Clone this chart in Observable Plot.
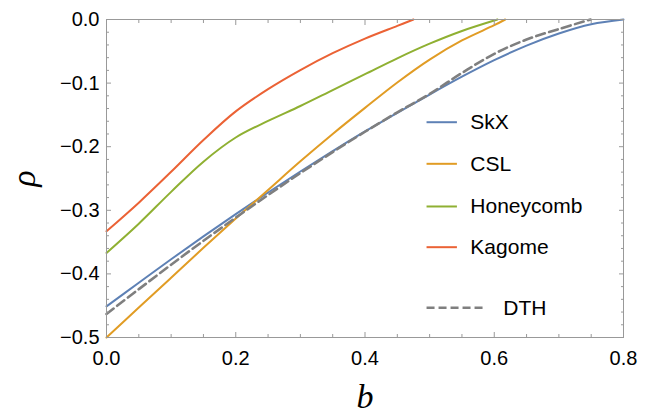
<!DOCTYPE html>
<html><head><meta charset="utf-8">
<script src="https://cdn.jsdelivr.net/npm/d3@7"></script>
<script src="https://cdn.jsdelivr.net/npm/@observablehq/plot@0.6"></script>
<style>body{margin:0;background:#fff}</style>
</head><body><div id="chart"></div>
<script>
// ---- data ----
const seriesNames = ["SkX", "CSL", "Honeycomb", "Kagome", "DTH"];
const seriesColors = ["#5E81B5", "#E19C24", "#8FB032", "#EB6235", "#7f7f7f"];

const skxB   = [0, 0.05, 0.1, 0.15, 0.2, 0.25, 0.3, 0.35, 0.4, 0.45, 0.5, 0.55, 0.6, 0.65, 0.7, 0.75, 0.8];
const skxRho = [-0.451, -0.414, -0.377, -0.341, -0.306, -0.272, -0.239, -0.207, -0.176, -0.147, -0.118, -0.090, -0.064, -0.041, -0.022, -0.0075, 0];

const cslB   = [0, 0.05, 0.1, 0.15, 0.2, 0.25, 0.3, 0.35, 0.4, 0.45, 0.5, 0.55, 0.6, 0.617];
const cslRho = [-0.5, -0.453, -0.406, -0.359, -0.313, -0.268, -0.223, -0.180, -0.139, -0.099, -0.063, -0.033, -0.009, 0];

const honeyB   = [0, 0.05, 0.1, 0.15, 0.2, 0.25, 0.3, 0.35, 0.4, 0.45, 0.5, 0.55, 0.605];
const honeyRho = [-0.367, -0.321, -0.271, -0.2235, -0.1855, -0.1595, -0.136, -0.111, -0.086, -0.061, -0.038, -0.018, 0];

const kagB   = [0, 0.05, 0.1, 0.15, 0.2, 0.25, 0.3, 0.35, 0.4, 0.45, 0.475];
const kagRho = [-0.333, -0.288, -0.2395, -0.1895, -0.1445, -0.1095, -0.0795, -0.053, -0.030, -0.010, 0];

const dthB   = [0, 0.05, 0.1, 0.15, 0.2, 0.25, 0.3, 0.35, 0.4, 0.45, 0.5, 0.55, 0.6, 0.65, 0.7, 0.749];
const dthRho = [-0.463, -0.424, -0.3855, -0.348, -0.3115, -0.276, -0.2415, -0.2085, -0.1765, -0.146, -0.117, -0.084, -0.054, -0.0315, -0.015, 0];

const xMajor = [0, 0.2, 0.4, 0.6, 0.8];
const yMajor = [-0.5, -0.4, -0.3, -0.2, -0.1, 0];

// ---- build tables ----
const toRows = (name, B, R) => B.map((b, i) => ({series: name, b, rho: R[i]}));
const solid = [
  ...toRows("SkX", skxB, skxRho),
  ...toRows("CSL", cslB, cslRho),
  ...toRows("Honeycomb", honeyB, honeyRho),
  ...toRows("Kagome", kagB, kagRho)
];
const dth = toRows("DTH", dthB, dthRho);

const xMinor = d3.range(0, 0.8001, 0.05).map(v => +v.toFixed(3)).filter(v => !xMajor.some(m => Math.abs(m - v) < 1e-6));
const yMinor = d3.range(-0.5, 0.0001, 0.02).map(v => +v.toFixed(3)).filter(v => !yMajor.some(m => Math.abs(m - v) < 1e-6));

const fmt = d3.format(".1f");
const tickColor = "#999";
const colorOf = n => seriesColors[seriesNames.indexOf(n)];

// legend rows (in data coordinates)
const legend = [
  {name: "SkX", y: -0.1615},
  {name: "CSL", y: -0.2269},
  {name: "Honeycomb", y: -0.294},
  {name: "Kagome", y: -0.358}
];
const legendDTH = [{name: "DTH", y: -0.4533}];

const tickMarks = [];
for (const anchor of ["bottom", "top"]) {
  tickMarks.push(Plot.axisX(xMajor, {anchor, tickSize: -5, text: null, label: null, stroke: tickColor}));
  tickMarks.push(Plot.axisX(xMinor, {anchor, tickSize: -3, text: null, label: null, stroke: tickColor}));
}
for (const anchor of ["left", "right"]) {
  tickMarks.push(Plot.axisY(yMajor, {anchor, tickSize: -5, text: null, label: null, stroke: tickColor}));
  tickMarks.push(Plot.axisY(yMinor, {anchor, tickSize: -3, text: null, label: null, stroke: tickColor}));
}

const chart = Plot.plot({
  width: 656,
  height: 416,
  marginLeft: 106,
  marginRight: 33,
  marginTop: 19,
  marginBottom: 79,
  style: {fontFamily: "'Liberation Sans', Arial, sans-serif", fontSize: "20px", background: "#fff", color: "#000"},
  x: {domain: [0, 0.8], label: null},
  y: {domain: [-0.5, 0], label: null},
  marks: [
    Plot.line(solid, {x: "b", y: "rho", z: "series", stroke: d => colorOf(d.series), strokeWidth: 2, curve: "catmull-rom"}),
    Plot.line(dth, {x: "b", y: "rho", stroke: colorOf("DTH"), strokeWidth: 2.6, strokeDasharray: "9,4.5", curve: "catmull-rom"}),
    Plot.frame({stroke: tickColor, strokeWidth: 1}),
    ...tickMarks,
    Plot.axisX(xMajor, {anchor: "bottom", tickSize: 0, tickPadding: 13, tickFormat: fmt, fontSize: 20, label: null}),
    Plot.axisY(yMajor, {anchor: "left", tickSize: 0, tickPadding: 7, tickFormat: fmt, fontSize: 20, label: null}),
    // axis labels
    Plot.text(["b"], {x: () => 0.4, frameAnchor: "bottom", dy: 60, text: d => d, fontSize: 34, fontStyle: "italic", fontFamily: "'Liberation Serif', 'Times New Roman', serif", textAnchor: "middle", lineAnchor: "middle"}),
    Plot.text(["ρ"], {y: () => -0.25, frameAnchor: "left", dx: -82, text: d => d, fontSize: 34, fontStyle: "italic", fontFamily: "'Liberation Serif', 'Times New Roman', serif", rotate: -90, textAnchor: "middle", lineAnchor: "middle"}),
    // legend
    Plot.ruleY(legend, {y: "y", x1: () => 0.496, x2: () => 0.543, stroke: d => colorOf(d.name), strokeWidth: 2}),
    Plot.text(legend, {y: "y", x: () => 0.563, text: "name", textAnchor: "start", fontSize: 21}),
    Plot.ruleY(legendDTH, {y: "y", x1: () => 0.496, x2: () => 0.5865, stroke: colorOf("DTH"), strokeWidth: 2.6, strokeDasharray: "8,4"}),
    Plot.text(legendDTH, {y: "y", x: () => 0.614, text: "name", textAnchor: "start", fontSize: 21})
  ]
});
document.getElementById("chart").appendChild(chart);
</script>
</body></html>
